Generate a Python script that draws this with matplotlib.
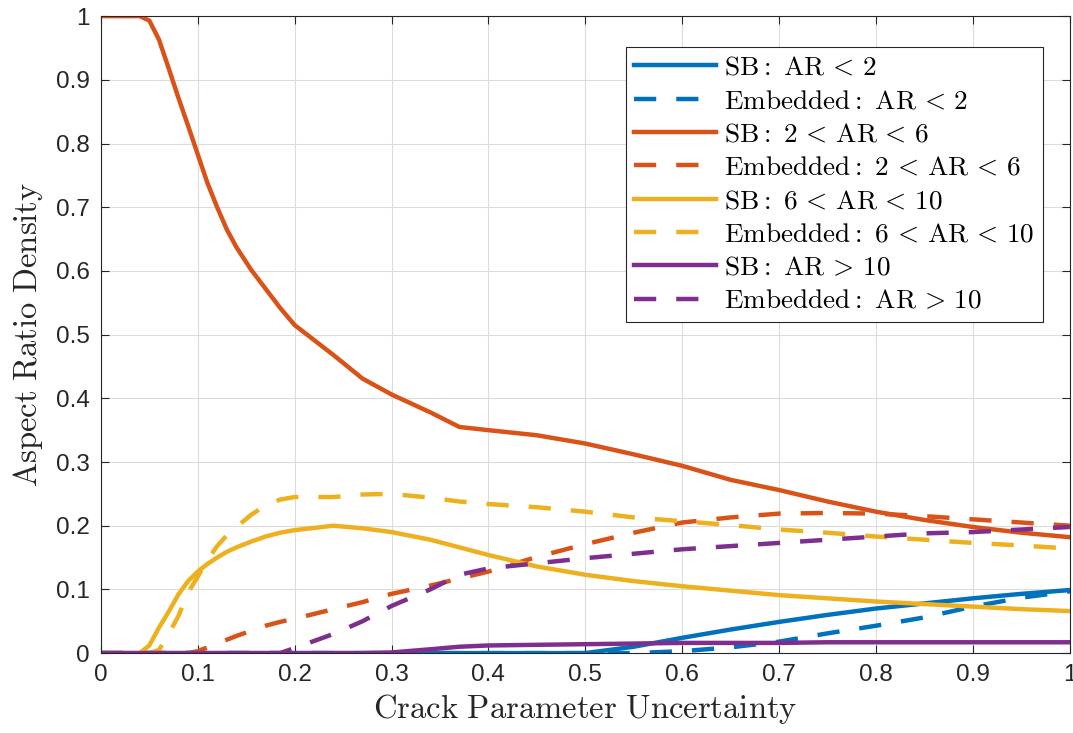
import matplotlib.pyplot as plt

plt.rcParams['mathtext.fontset'] = 'cm'
plt.rcParams['font.family'] = ['Liberation Sans', 'DejaVu Sans']

# crack parameter uncertainty
x = [0, 0.04, 0.05, 0.06, 0.07, 0.08, 0.09, 0.10, 0.11, 0.12, 0.13, 0.14, 0.155, 0.17, 0.185, 0.20,
     0.24, 0.27, 0.30, 0.34, 0.37, 0.40, 0.45, 0.50, 0.55, 0.60, 0.65, 0.70,
     0.75, 0.80, 0.85, 0.90, 0.95, 1.00]

# aspect ratio densities, surface breaking (SB) and embedded cracks
sb_lt2 = [0, 0, 0, 0, 0, 0, 0, 0, 0, 0, 0, 0, 0, 0, 0, 0,
          0, 0, 0, 0, 0, 0, 0, 0, 0.010, 0.024, 0.037, 0.049,
          0.060, 0.070, 0.078, 0.086, 0.093, 0.099]
emb_lt2 = [0, 0, 0, 0, 0, 0, 0, 0, 0, 0, 0, 0, 0, 0, 0, 0,
           0, 0, 0, 0, 0, 0, 0, 0, 0, 0.003, 0.009, 0.018,
           0.031, 0.043, 0.056, 0.073, 0.087, 0.097]
sb_2_6 = [1, 1, 0.993, 0.963, 0.918, 0.872, 0.828, 0.783, 0.738, 0.700, 0.665, 0.637, 0.602, 0.572, 0.542, 0.515,
          0.468, 0.431, 0.406, 0.378, 0.355, 0.350, 0.342, 0.329, 0.312, 0.294, 0.272, 0.256,
          0.238, 0.222, 0.209, 0.198, 0.189, 0.182]
emb_2_6 = [0, 0, 0, 0, 0, 0, 0, 0.003, 0.009, 0.015, 0.021, 0.027, 0.035, 0.043, 0.049, 0.054,
           0.069, 0.080, 0.093, 0.106, 0.117, 0.128, 0.151, 0.171, 0.189, 0.205, 0.213, 0.219,
           0.220, 0.219, 0.215, 0.210, 0.205, 0.200]
sb_6_10 = [0, 0, 0.012, 0.040, 0.065, 0.092, 0.113, 0.128, 0.140, 0.150, 0.159, 0.166, 0.175, 0.183, 0.189, 0.193,
           0.200, 0.196, 0.190, 0.178, 0.166, 0.154, 0.136, 0.123, 0.113, 0.105, 0.098, 0.091,
           0.086, 0.081, 0.077, 0.073, 0.069, 0.066]
emb_6_10 = [0, 0, 0, 0.005, 0.030, 0.058, 0.095, 0.120, 0.146, 0.168, 0.185, 0.198, 0.217, 0.232, 0.241, 0.245,
            0.245, 0.249, 0.250, 0.244, 0.238, 0.234, 0.229, 0.222, 0.213, 0.207, 0.201, 0.194,
            0.189, 0.183, 0.178, 0.173, 0.169, 0.164]
sb_gt10 = [0, 0, 0, 0, 0, 0, 0, 0, 0, 0, 0, 0, 0, 0, 0, 0,
           0, 0, 0.001, 0.006, 0.010, 0.012, 0.013, 0.014, 0.015, 0.016, 0.016, 0.016,
           0.017, 0.017, 0.017, 0.017, 0.017, 0.017]
emb_gt10 = [0, 0, 0, 0, 0, 0, 0, 0, 0, 0, 0, 0, 0, 0, 0, 0.008,
            0.030, 0.050, 0.074, 0.100, 0.123, 0.133, 0.141, 0.149, 0.156, 0.163, 0.168, 0.173,
            0.178, 0.183, 0.188, 0.190, 0.194, 0.198]

labels = [r'$\mathrm{SB{:}\ AR}\,<\,2$',
          r'$\mathrm{Embedded{:}\ AR}\,<\,2$',
          r'$\mathrm{SB{:}\ 2}\,<\,\mathrm{AR}\,<\,6$',
          r'$\mathrm{Embedded{:}\ 2}\,<\,\mathrm{AR}\,<\,6$',
          r'$\mathrm{SB{:}\ 6}\,<\,\mathrm{AR}\,<\,10$',
          r'$\mathrm{Embedded{:}\ 6}\,<\,\mathrm{AR}\,<\,10$',
          r'$\mathrm{SB{:}\ AR}\,>\,10$',
          r'$\mathrm{Embedded{:}\ AR}\,>\,10$']
series = [sb_lt2, emb_lt2, sb_2_6, emb_2_6, sb_6_10, emb_6_10, sb_gt10, emb_gt10]
colors = ['#0072BD', '#0072BD', '#D95319', '#D95319',
          '#EDB120', '#EDB120', '#7E2F8E', '#7E2F8E']

fig = plt.figure(figsize=(10.73, 7.33), dpi=100)
ax = fig.add_axes([0.094, 0.109, 0.903, 0.869])

for i, (y, lab, c) in enumerate(zip(series, labels, colors)):
    ls = '-' if i % 2 == 0 else (0, (5, 4.5))
    ax.plot(x, y, color=c, linestyle=ls, linewidth=3.2, label=lab)

ax.set_xlim(0, 1)
ax.set_ylim(0, 1)
ticks = [0, 0.1, 0.2, 0.3, 0.4, 0.5, 0.6, 0.7, 0.8, 0.9, 1]
tick_labels = ['0', '0.1', '0.2', '0.3', '0.4', '0.5', '0.6', '0.7', '0.8', '0.9', '1']
ax.set_xticks(ticks, tick_labels)
ax.set_yticks(ticks, tick_labels)
ax.tick_params(direction='in', length=6, width=0.8, top=True, right=True,
               labelsize=17.5, colors='#262626', pad=8)
for s in ax.spines.values():
    s.set_color('#262626')
    s.set_linewidth(0.8)
ax.grid(True, color='#dcdcdc', linewidth=0.8)
ax.set_axisbelow(True)

ax.set_xlabel(r'$\mathrm{Crack\ Parameter\ Uncertainty}$', fontsize=23.5, color='#262626', labelpad=4)
ax.set_ylabel(r'$\mathrm{Aspect\ Ratio\ Density}$', fontsize=23.5, color='#262626', labelpad=8)

leg = ax.legend(loc='upper right', bbox_to_anchor=(0.972, 0.952), fontsize=19.6,
                fancybox=False, framealpha=1, edgecolor='#262626',
                handlelength=3.0, handletextpad=0.3, labelspacing=0.27, borderpad=0.3,
                borderaxespad=0)
leg.get_frame().set_linewidth(0.8)

plt.savefig('out.png', dpi=100)
